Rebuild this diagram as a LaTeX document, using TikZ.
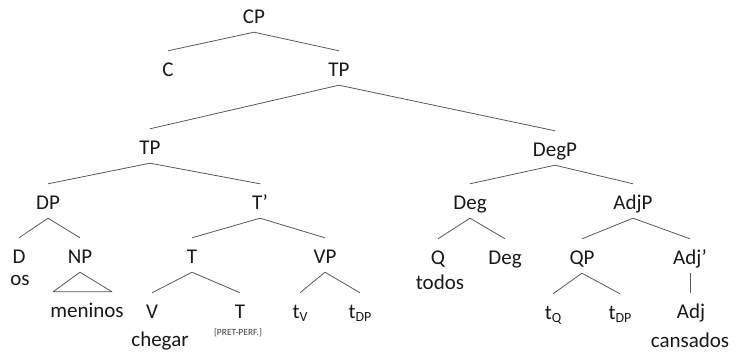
\documentclass[tikz,border=0pt]{standalone}
\usepackage{fontspec}
\setmainfont{Carlito}
\usepackage{tikz}

\newcommand{\trc}[1]{t\raisebox{-2.5pt}{\fontsize{14}{14}\selectfont #1}}

\begin{document}
\begin{tikzpicture}[x=1pt,y=-1pt,
  cat/.style={anchor=base,text height=22pt,text depth=4pt,inner ysep=4pt,inner xsep=0pt,
    text=black!90,font=\fontsize{21}{25}\selectfont},
  word/.style={anchor=base,inner sep=0pt,text=black!90,font=\fontsize{21}{25}\selectfont},
  branch/.style={line width=0.8pt,draw=black!65}]
\useasboundingbox (0,0) rectangle (734,352);
% top of the tree
\node[cat] (cp) at (254,24) {CP};
\node[cat] (c) at (168,77) {C};
\node[cat] (tp) at (339,77) {TP};
\node[cat] (tpa) at (150,155) {TP};
\node[cat] (degp) at (555,157) {DegP};
\draw[branch] (cp.south) -- (c.north);
\draw[branch] (cp.south) -- (tp.north);
\draw[branch] (tp.south) -- (tpa.north);
\draw[branch] (tp.south) -- (degp.north);
% left TP
\node[cat] (dp) at (48,210) {DP};
\node[cat] (tbar) at (260,210) {T’};
\draw[branch] (tpa.south) -- (dp.north);
\draw[branch] (tpa.south) -- (tbar.north);
\node[cat] (d) at (19,264) {D};
\node[word] (os) at (20,286) {os};
\node[cat] (np) at (80,264) {NP};
\node[cat] (menin) at (87,318) {meninos};
\draw[branch] (dp.south) -- (d.north);
\draw[branch] (dp.south) -- (np.north);
\draw[branch,line join=round] (np.south) -- ([xshift=-34pt]menin.north) -- ([xshift=25pt]menin.north) -- cycle;
\node[cat] (t) at (192,264) {T};
\node[cat] (vp) at (325,264) {VP};
\draw[branch] (tbar.south) -- (t.north);
\draw[branch] (tbar.south) -- (vp.north);
\node[cat] (v) at (152,319) {V};
\node[word] (chegar) at (160,347) {chegar};
\node[cat] (tlow) at (240,319) {T};
\node[word,font=\fontsize{9.5}{10}\selectfont,text=black!75] (pretperf) at (238,336) {[PRET-PERF.]};
\draw[branch] (t.south) -- (v.north);
\draw[branch] (t.south) -- (tlow.north);
\node[cat] (tv) at (300,319) {\trc{V}};
\node[cat] (tdp) at (360,319) {\trc{DP}};
\draw[branch] (vp.south) -- (tv.north);
\draw[branch] (vp.south) -- (tdp.north);
% DegP
\node[cat] (deg) at (470,210) {Deg};
\node[cat] (adjp) at (633,210) {AdjP};
\draw[branch] (degp.south) -- (deg.north);
\draw[branch] (degp.south) -- (adjp.north);
\node[cat] (q) at (438,265) {Q};
\node[word] (todos) at (440,290) {todos};
\node[cat] (degb) at (505,265) {Deg};
\draw[branch] (deg.south) -- (q.north);
\draw[branch] (deg.south) -- (degb.north);
\node[cat] (qp) at (582,265) {QP};
\node[cat] (adjbar) at (690,265) {Adj’};
\draw[branch] (adjp.south) -- (qp.north);
\draw[branch] (adjp.south) -- (adjbar.north);
\node[cat] (tq) at (553,320) {\trc{Q}};
\node[cat] (tdpb) at (620,320) {\trc{DP}};
\draw[branch] (qp.south) -- (tq.north);
\draw[branch] (qp.south) -- (tdpb.north);
\node[cat] (adj) at (691,319) {Adj};
\node[word] (cansados) at (690,348) {cansados};
\draw[branch] (adjbar.south) -- (adjbar.south |- adj.north);
\end{tikzpicture}
\end{document}
